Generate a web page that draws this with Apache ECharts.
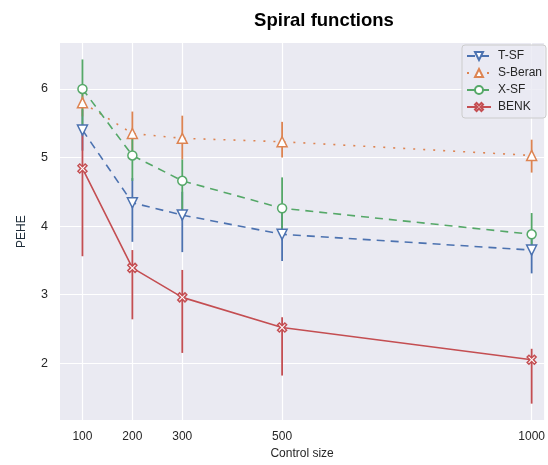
<!DOCTYPE html>
<html>
<head>
<meta charset="utf-8">
<script src="https://cdn.jsdelivr.net/npm/echarts@6/dist/echarts.min.js"></script>
<style>
  html, body { margin: 0; padding: 0; background: #fff; }
  #chart-container { width: 548px; height: 465px; }
</style>
</head>
<body>
<div id="chart-container"></div>
<script>
var dom = document.getElementById('chart-container');
var myChart = echarts.init(dom, null, { renderer: 'canvas' });

// control sizes (x)
var sizes = [100, 200, 300, 500, 1000];
var xTicks = [100, 200, 300, 500, 1000];
var yTicks = [2, 3, 4, 5, 6];

// PEHE means and error bar ends
var tsfMean = [5.40, 4.34, 4.16, 3.88, 3.65];
var tsfLow  = [5.10, 3.77, 3.62, 3.49, 3.31];
var tsfHigh = [5.70, 4.70, 4.50, 4.20, 3.90];

var sberMean = [5.80, 5.35, 5.28, 5.23, 5.03];
var sberLow  = [5.60, 5.10, 4.97, 5.00, 4.78];
var sberHigh = [6.00, 5.67, 5.61, 5.52, 5.26];

var xsfMean = [6.00, 5.03, 4.66, 4.26, 3.88];
var xsfLow  = [5.45, 4.66, 4.20, 3.85, 3.62];
var xsfHigh = [6.43, 5.40, 4.97, 4.71, 4.19];

var benkMean = [4.84, 3.39, 2.96, 2.52, 2.05];
var benkLow  = [3.56, 2.64, 2.15, 1.82, 1.41];
var benkHigh = [5.34, 3.65, 3.36, 2.67, 2.21];

var colors = ['#4C72B0', '#DD8452', '#55A868', '#C44E52'];
var xMark = 'path://M2,0L5,3L8,0L10,2L7,5L10,8L8,10L5,7L2,10L0,8L3,5L0,2Z';

function pairs(mean) {
    return sizes.map(function (x, i) { return [x, mean[i]]; });
}

function bars(name, low, high, color, order) {
    return {
        name: name + ' err',
        type: 'custom',
        z: 1,
        silent: true,
        color: color,
        data: sizes.map(function (x, i) { return [x, low[i], high[i]]; }),
        encode: { x: 0, y: [1, 2] },
        renderItem: function (params, api) {
            var a = api.coord([api.value(0), api.value(1)]);
            var b = api.coord([api.value(0), api.value(2)]);
            return {
                type: 'line',
                z2: order,
                shape: { x1: a[0], y1: a[1], x2: b[0], y2: b[1] },
                style: { stroke: color, lineWidth: 1.8 }
            };
        }
    };
}

function line(name, mean, color, dash, symbol, size, rotate) {
    return {
        name: name,
        type: 'line',
        z: 3,
        color: color,
        data: pairs(mean),
        symbol: symbol,
        symbolSize: size,
        symbolRotate: rotate || 0,
        lineStyle: { color: color, width: 1.6, type: dash },
        itemStyle: { color: '#fff', borderColor: color, borderWidth: 1.5 }
    };
}

var option = {
    animation: false,
    backgroundColor: '#fff',
    textStyle: { fontFamily: 'Liberation Sans, Arial, sans-serif' },
    title: {
        text: 'Spiral functions',
        left: 319,
        textAlign: 'center',
        top: 6,
        textStyle: { fontSize: 18.5, fontWeight: 'bold', color: '#000', fontFamily: 'Liberation Sans' }
    },
    legend: {
        orient: 'vertical',
        left: 462,
        top: 45,
        itemWidth: 24,
        itemHeight: 10,
        itemGap: 5,
        padding: [5, 4, 5, 4],
        backgroundColor: 'rgba(234,234,242,0.8)',
        borderColor: '#cccccc',
        borderWidth: 1,
        borderRadius: 3,
        textStyle: { fontSize: 12, color: '#262626', padding: [0, 0, 0, 2] },
        data: ['T-SF', 'S-Beran', 'X-SF', 'BENK']
    },
    grid: { left: 60, right: 0, top: 43, bottom: 43, backgroundColor: '#EAEAF2', show: true, borderWidth: 0 },
    xAxis: {
        type: 'value',
        min: 55,
        max: 1025,
        name: 'Control size',
        nameLocation: 'middle',
        nameGap: 26,
        nameTextStyle: { fontSize: 12, color: '#262626' },
        axisLine: { show: false },
        axisTick: { show: false, customValues: xTicks },
        axisLabel: { customValues: xTicks, fontSize: 12, color: '#262626', margin: 11,
            formatter: function (v) { return String(v); } },
        splitLine: { show: true, lineStyle: { color: '#fff', width: 1.2 } }
    },
    yAxis: {
        type: 'value',
        min: 1.17,
        max: 6.67,
        name: 'PEHE',
        nameLocation: 'middle',
        nameGap: 32,
        nameTextStyle: { fontSize: 12, color: '#1f2d3a' },
        axisLine: { show: false },
        axisTick: { show: false, customValues: yTicks },
        axisLabel: { customValues: yTicks, fontSize: 12.5, color: '#262626', margin: 12 },
        splitLine: { show: true, lineStyle: { color: '#fff', width: 1.2 } }
    },
    series: [
        bars('T-SF', tsfLow, tsfHigh, colors[0], 1),
        bars('S-Beran', sberLow, sberHigh, colors[1], 2),
        bars('X-SF', xsfLow, xsfHigh, colors[2], 3),
        bars('BENK', benkLow, benkHigh, colors[3], 4),
        line('T-SF', tsfMean, colors[0], [8, 6], 'triangle', 10, 180),
        line('S-Beran', sberMean, colors[1], [2, 8], 'triangle', 10),
        line('X-SF', xsfMean, colors[2], [8, 6], 'circle', 9),
        line('BENK', benkMean, colors[3], 'solid', xMark, 9)
    ]
};

myChart.setOption(option);
window.addEventListener('resize', myChart.resize);
</script>
</body>
</html>
